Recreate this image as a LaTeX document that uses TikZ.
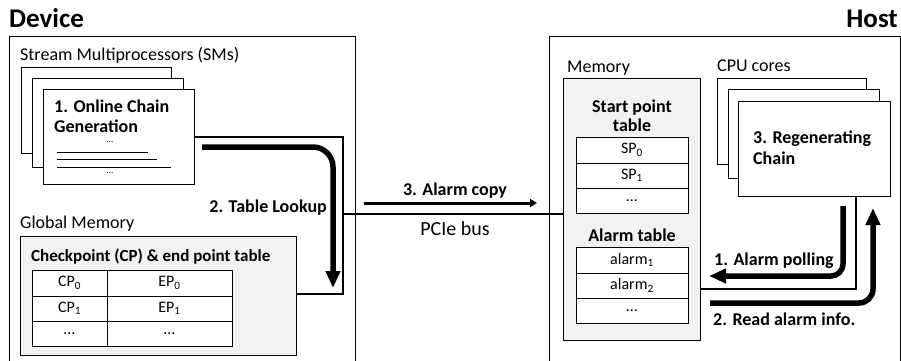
\documentclass[tikz,border=0pt]{standalone}
\usepackage{fontspec}
\setmainfont{Carlito}
\usetikzlibrary{arrows.meta}
\definecolor{memgray}{HTML}{F2F2F2}
\begin{document}
\begin{tikzpicture}[x=1pt,y=-1pt,
  box/.style={draw,line width=1pt,fill=white,inner sep=0pt,outer sep=0pt,anchor=north west},
  gbox/.style={box,fill=memgray},
  cell/.style={draw,line width=1pt,fill=white,inner sep=0pt,outer sep=0pt,anchor=north west,font=\fontsize{16}{18}\selectfont},
  lbl/.style={inner sep=0pt,anchor=base west,font=\fontsize{18}{20}\selectfont},
  bl/.style={inner sep=0pt,anchor=base west,font=\bfseries\fontsize{18}{20}\selectfont},
  dots/.style={inner sep=0pt,font=\fontsize{9}{11}\selectfont},
  conn/.style={line width=1.2pt},
  bigarrow/.style={line width=5.5pt,-{Triangle[length=17pt,width=14pt]}},
  copyarrow/.style={line width=3pt,-{Triangle[length=7pt,width=8pt]}}]
\clip (0,0) rectangle (901,360);
\fill[white] (0,0) rectangle (901,360);

% titles
\node[inner sep=0pt,anchor=base west,font=\bfseries\fontsize{27}{30}\selectfont] (tdev) at (9,27) {Device};
\node[inner sep=0pt,anchor=base east,font=\bfseries\fontsize{27}{30}\selectfont] (thost) at (898,27) {Host};

% outer boxes
\node[box,minimum width=346pt,minimum height=340pt] (dev) at (9,36) {};
\node[box,minimum width=351pt,minimum height=340pt] (host) at (549,36) {};

% ---------- Device ----------
\node[lbl] (tsm) at (20,60) {Stream Multiprocessors (SMs)};
\node[box,minimum width=150pt,minimum height=86pt] (sm1) at (21,67) {};
\node[box,minimum width=151pt,minimum height=89pt] (sm2) at (32,78) {};
\node[box,minimum width=151pt,minimum height=95pt] (sm3) at (43,89) {};
\node[bl] (t1a) at (54,112) {1. Online Chain};
\node[bl] (t1b) at (54,132) {Generation};
\node[dots] (d1) at (110,142) {\ldots};
\draw[line width=1pt] (57,152) -- (148,152);
\draw[line width=1pt] (57,159) -- (157,159);
\draw[line width=1pt] (57,167) -- (171,167);
\node[dots] (d2) at (110,173) {\ldots};

\node[lbl] (tgm) at (20,228) {Global Memory};
\node[gbox,minimum width=276pt,minimum height=119pt] (gm) at (20,236) {};
\node[bl,font=\bfseries\fontsize{17}{19}\selectfont] (tcp) at (31,261) {Checkpoint (CP) \& end point table};
\node[cell,minimum width=75pt,minimum height=26pt] (cp0) at (32,270) {CP\textsubscript{0}};
\node[cell,minimum width=125pt,minimum height=26pt] (ep0) at (107,270) {EP\textsubscript{0}};
\node[cell,minimum width=75pt,minimum height=25pt] (cp1) at (32,296) {CP\textsubscript{1}};
\node[cell,minimum width=125pt,minimum height=25pt] (ep1) at (107,296) {EP\textsubscript{1}};
\node[cell,minimum width=75pt,minimum height=25pt] (cp2) at (32,321) {\ldots};
\node[cell,minimum width=125pt,minimum height=25pt] (ep2) at (107,321) {\ldots};

% ---------- Host ----------
\node[lbl] (tmem) at (567,72) {Memory};
\node[gbox,minimum width=137pt,minimum height=262pt] (hmem) at (563,78) {};
\node[bl,anchor=base] (tsp1) at (632,112) {Start point};
\node[bl,anchor=base] (tsp2) at (632,131) {table};
\node[cell,minimum width=112pt,minimum height=26pt] (sp0) at (576,137) {SP\textsubscript{0}};
\node[cell,minimum width=112pt,minimum height=25pt] (sp1) at (576,163) {SP\textsubscript{1}};
\node[cell,minimum width=112pt,minimum height=25pt] (sp2) at (576,188) {\ldots};
\node[bl,anchor=base] (tal) at (632,241) {Alarm table};
\node[cell,minimum width=112pt,minimum height=26pt] (al1) at (576,247) {alarm\textsubscript{1}};
\node[cell,minimum width=112pt,minimum height=25pt] (al2) at (576,273) {alarm\textsubscript{2}};
\node[cell,minimum width=112pt,minimum height=25pt] (al3) at (576,298) {\ldots};

\node[lbl] (tcpu) at (717,71) {CPU cores};
\node[box,minimum width=149pt,minimum height=86pt] (c1) at (717,78) {};
\node[box,minimum width=151pt,minimum height=89pt] (c2) at (728,89) {};
\node[box,minimum width=152pt,minimum height=95pt] (c3) at (738,101) {};
\node[bl] (t3a) at (753,143) {3. Regenerating};
\node[bl] (t3b) at (753,164) {Chain};

% ---------- thin connectors ----------
\coordinate (k1) at (343,137);
\coordinate (k2) at (343,294);
\coordinate (kb) at (343,214);
\draw[conn] (sm3.east |- k1) -- (k1) -- (k2) -- (k2 -| gm.east);
\draw[conn] (kb) -- (kb -| hmem.west);
\coordinate (h1) at (856,289);
\draw[conn] (h1 |- c3.south) -- (h1) -- (h1 -| hmem.east);

% ---------- thick arrows ----------
\coordinate (a1s) at (202,147);
\coordinate (a1c) at (333,147);
\coordinate (a1e) at (333,288);
\draw[bigarrow,rounded corners=20pt] (a1s) -- (a1c) -- (a1e);
\node[bl,anchor=base east] (tlook) at (327,212) {2. Table Lookup};

\coordinate (cps) at (364,203);
\coordinate (cpe) at (537,203);
\draw[copyarrow] (cps) -- (cpe);
\node[bl,anchor=base] (tcopy) at (455,195) {3. Alarm copy};
\node[lbl,anchor=base,font=\fontsize{20}{22}\selectfont] (tpcie) at (455,235) {PCIe bus};

\coordinate (p1) at (843,206);
\coordinate (p2) at (843,276);
\coordinate (p3) at (709,276);
\draw[bigarrow,rounded corners=12pt] (p1) -- (p2) -- (p3);
\node[bl] (tpoll) at (714,265) {1. Alarm polling};

\coordinate (r1) at (710,303);
\coordinate (r2) at (873,303);
\coordinate (r3) at (873,208);
\draw[bigarrow,rounded corners=14pt] (r1) -- (r2) -- (r3);
\node[bl] (tread) at (713,325) {2. Read alarm info.};
\end{tikzpicture}
\end{document}
